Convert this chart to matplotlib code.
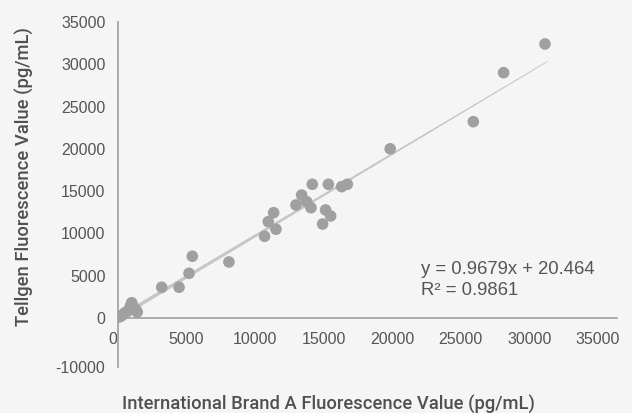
import numpy as np
import matplotlib
matplotlib.use("Agg")
import matplotlib.pyplot as plt
import matplotlib.transforms as mtransforms
from matplotlib.collections import LineCollection

# Data
brand_a = [50, 200, 300, 500, 700, 900, 1000, 1100, 1300, 1400,
           3190, 4450, 5180, 5420, 8090, 10690, 10960, 11350, 11520,
           12980, 13390, 13760, 14070, 14170, 14920, 15140, 15340, 15510,
           16310, 16720, 19850, 25910, 28120, 31140]
tellgen = [100, 200, 350, 600, 800, 1400, 1800, 1300, 1000, 700,
           3630, 3630, 5280, 7300, 6620, 9660, 11390, 12450, 10490,
           13360, 14540, 13750, 13040, 15810, 11110, 12770, 15810, 12060,
           15530, 15810, 20000, 23210, 29010, 32400]
slope = 0.9679
intercept = 20.464
r2 = 0.9861
xticks = [0, 5000, 10000, 15000, 20000, 25000, 30000, 35000]
ytick_labels = ["-10000", "0", "5000", "10000", "15000", "20000", "25000", "30000", "35000"]
ytick_values = [0, 5000, 10000, 15000, 20000, 25000, 30000, 35000]

bg = "#f5f5f5"
fig = plt.figure(figsize=(6.32, 4.13), dpi=100, facecolor=bg)
W, H = 632, 413
ax = fig.add_axes([118 / W, 1 - 367 / H, (617 - 118) / W, (367 - 22) / H])
ax.set_facecolor(bg)

ymin = -5800
ax.set_xlim(0, 36390)
ax.set_ylim(ymin, 35000)

# trendline (tapering)
xl = np.linspace(0, 31300, 60)
yl = slope * xl + intercept
pts = np.array([xl, yl]).T.reshape(-1, 1, 2)
segs = np.concatenate([pts[:-1], pts[1:]], axis=1)
widths = np.linspace(2.6, 0.6, len(segs))
lc = LineCollection(segs, linewidths=widths, colors="#c6c6c6", capstyle="round", zorder=2)
ax.add_collection(lc)

ax.scatter(brand_a, tellgen, s=70, color="#a0a0a0", edgecolors="none", zorder=3)

for s in ["top", "right"]:
    ax.spines[s].set_visible(False)
ax.spines["bottom"].set_position(("data", 0))
for s in ["bottom", "left"]:
    ax.spines[s].set_color("#a6a6a6")
    ax.spines[s].set_linewidth(1.3)

ax.set_xticks(xticks)
ax.set_xticklabels([str(v) for v in xticks])
ax.set_yticks([ymin] + ytick_values)
ax.set_yticklabels(ytick_labels)
ax.tick_params(axis="x", length=0, pad=10, labelsize=11.5, labelcolor="#555555")
ax.tick_params(axis="y", length=0, pad=9, labelsize=11.5, labelcolor="#555555")
for t in ax.get_xticklabels() + ax.get_yticklabels():
    t.set_fontfamily("Liberation Sans")
# shift the x "0" label a little to the left as in the reference
lbl0 = ax.get_xticklabels()[0]
lbl0.set_transform(lbl0.get_transform() + mtransforms.ScaledTranslation(-5 / 100, 0, fig.dpi_scale_trans))

ax.text(22100, 5700, f"y = {slope}x + {intercept}", fontsize=13.3, color="#555555",
        family="Liberation Sans", va="center", ha="left")
ax.text(22100, 3200, f"R² = {r2}", fontsize=13.3, color="#555555",
        family="Liberation Sans", va="center", ha="left")

fig.text(328 / W, 1 - 404 / H, "International Brand A Fluorescence Value (pg/mL)",
         ha="center", va="center", fontsize=13.2, color="#505050", family="Roboto",
         fontweight="medium")
fig.text(25 / W, 1 - 177 / H, "Tellgen Fluorescence Value (pg/mL)", rotation=90,
         ha="center", va="center", fontsize=13.2, color="#505050", family="Roboto",
         fontweight="medium")

fig.savefig("out.png", dpi=100, facecolor=bg)
